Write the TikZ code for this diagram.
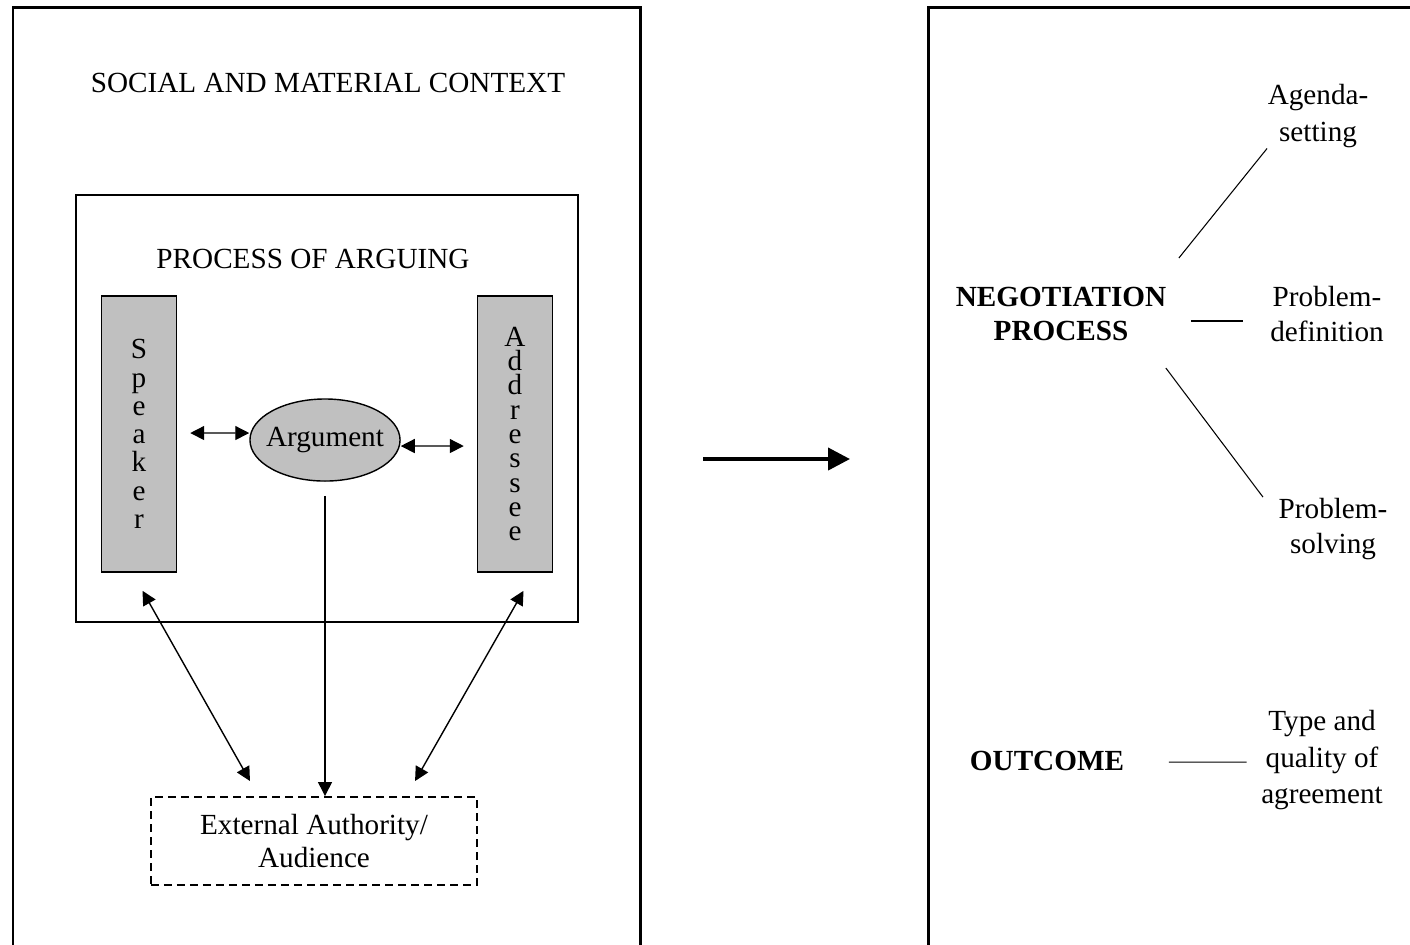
\documentclass[tikz,border=0pt]{standalone}
\usepackage{fontspec}
\setmainfont{Liberation Serif}
\usetikzlibrary{shapes.geometric,arrows.meta}

\definecolor{barfill}{RGB}{192,192,192}
\tikzset{
  txt/.style={inner sep=0pt, align=center, font=\fontsize{8.3}{10}\selectfont},
  head/.style={txt, font=\fontsize{8.3}{9.7}\selectfont\bfseries},
  bar/.style={draw, line width=0.4pt, fill=barfill, align=center, inner sep=0pt,
    minimum width=0.75cm, minimum height=2.76cm},
  link/.style={line width=0.3pt},
  twoway/.style={line width=0.4pt, {Triangle[length=1.4mm,width=1.4mm]}-{Triangle[length=1.4mm,width=1.4mm]}},
  oneway/.style={line width=0.4pt, -{Triangle[length=1.4mm,width=1.4mm]}},
}

\begin{document}
\begin{tikzpicture}[x=0.01cm, y=-0.01cm]
  \clip (0,0) rectangle (1410,944);

  % left panel
  \draw[line width=0.85pt] (13,960) |- (640,7) -- (640,960);
  \node[txt] (context) at (328,83) {SOCIAL AND MATERIAL CONTEXT};

  \draw[line width=0.55pt] (76,195) rectangle (578,622);
  \node[txt] (arguing) at (313,259) {PROCESS OF ARGUING};

  \node[bar, font=\fontsize{8.3}{8.05}\selectfont] (speaker) at (139,434) {S\\p\\e\\a\\k\\e\\r};
  \node[bar, font=\fontsize{8.3}{6.9}\selectfont] (addressee) at (515,434) {A\\d\\d\\r\\e\\s\\s\\e\\e};
  \node[ellipse, draw, fill=barfill, line width=0.4pt, txt,
    minimum width=1.5cm, minimum height=0.82cm] (argument) at (325,440) {\makebox[0pt]{Argument}};

  \node[txt, draw, dash pattern=on 0.8mm off 0.5mm, line width=0.55pt,
    font=\fontsize{8.3}{9.4}\selectfont,
    minimum width=3.26cm, minimum height=0.88cm] (audience) at (314,841) {External Authority/\\Audience};

  \draw[twoway] ([xshift=1.3mm,yshift=0.1mm]speaker.east) -- ([yshift=0.7mm]argument.west);
  \draw[twoway] ([yshift=-0.6mm]argument.east) -- ([xshift=-1.3mm,yshift=-1.2mm]addressee.west);
  \draw[oneway] ([yshift=-1.4mm]argument.south) -- (argument.south |- audience.north);
  \draw[twoway] ([xshift=0.35mm,yshift=-1.8mm]speaker.south) -- ([xshift=-6.4mm,yshift=1.5mm]audience.north);
  \draw[twoway] ([xshift=0.85mm,yshift=-1.8mm]addressee.south) -- ([xshift=10.1mm,yshift=1.5mm]audience.north);

  % from arguing to negotiating
  \coordinate (gapleft) at (703,459);
  \coordinate (gapright) at (850,459);
  \draw[line width=1.15pt, -{Triangle[length=2.2mm,width=2.2mm]}] (gapleft) -- (gapright);

  % right panel
  \draw[line width=0.85pt] (928,960) |- (1420,7);
  \node[head] (negotiation) at (1061,314) {NEGOTIATION\\PROCESS};
  \node[txt, font=\fontsize{8.3}{10.5}\selectfont] (agenda) at (1318,116) {Agenda-\\setting};
  \node[txt, font=\fontsize{8.3}{9.7}\selectfont] (definition) at (1327,314) {Problem-\\definition};
  \node[txt, font=\fontsize{8.3}{10.2}\selectfont] (solving) at (1333,529) {Problem-\\solving};
  \node[head] (outcome) at (1047,761) {OUTCOME};
  \node[txt, font=\fontsize{8.3}{10.4}\selectfont] (quality) at (1322,760) {Type and\\quality of\\agreement};

  \draw[link] ([xshift=1.2mm,yshift=5.6mm]negotiation.east) -- (agenda.south west);
  \draw[link] ([xshift=2.4mm,yshift=-0.7mm]negotiation.east) -- ([xshift=-2.7mm,yshift=-0.7mm]definition.west);
  \draw[link] ([xshift=-0.1mm,yshift=-5.4mm]negotiation.east) -- ([xshift=-1.5mm]solving.north west);
  \draw[link] ([xshift=4.4mm,yshift=-0.1mm]outcome.east) -- ([xshift=-1.4mm,yshift=-0.2mm]quality.west);
\end{tikzpicture}
\end{document}
